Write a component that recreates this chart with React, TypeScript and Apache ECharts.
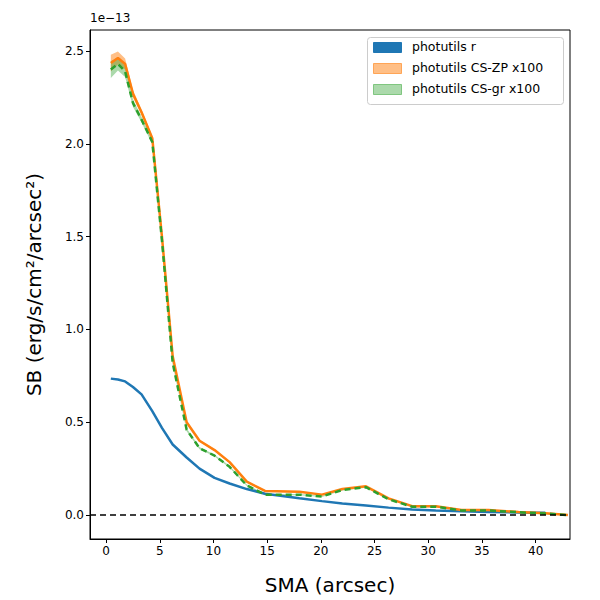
import React, { useEffect, useRef } from 'react'
import * as echarts from 'echarts'

const sma = [0.44, 1.1, 1.77, 2.5, 3.3, 4.3, 5.2, 6.2, 7.5, 8.7, 10.1, 11.5, 13.1, 14.8, 18, 20.1, 22, 24.2, 26.3, 28.5, 30.7, 33.1, 35.6, 38.4, 40.9, 43]
const sbR = [0.735, 0.73, 0.72, 0.69, 0.65, 0.56, 0.47, 0.38, 0.31, 0.25, 0.2, 0.17, 0.14, 0.115, 0.09, 0.075, 0.062, 0.052, 0.04, 0.03, 0.025, 0.02, 0.017, 0.014, 0.012]
const sbZP = [2.435, 2.462, 2.43, 2.27, 2.17, 2.03, 1.5, 0.855, 0.5, 0.4, 0.35, 0.285, 0.18, 0.13, 0.125, 0.11, 0.14, 0.155, 0.09, 0.048, 0.048, 0.027, 0.027, 0.016, 0.01, 0.0]
const sbGR = [2.4, 2.43, 2.39, 2.22, 2.13, 2.01, 1.48, 0.82, 0.46, 0.36, 0.32, 0.26, 0.16, 0.11, 0.11, 0.1, 0.135, 0.15, 0.085, 0.045, 0.045, 0.025, 0.025, 0.015, 0.008, 0.0]
const errZP = [0.045, 0.035, 0.03, 0.02, 0.015, 0.012, 0.01, 0.01, 0.008, 0.006, 0.005, 0.005, 0.004, 0.004, 0.003, 0.003, 0.003, 0.003, 0.003, 0.003, 0.003, 0.003, 0.003, 0.003, 0.003, 0.003]
const errGR = [0.045, 0.035, 0.03, 0.02, 0.015, 0.012, 0.01, 0.01, 0.008, 0.006, 0.005, 0.005, 0.004, 0.004, 0.003, 0.003, 0.003, 0.003, 0.003, 0.003, 0.003, 0.003, 0.003, 0.003, 0.003, 0.003]
const xTicks = [0, 5, 10, 15, 20, 25, 30, 35, 40]
const yTicks = [0, 0.5, 1.0, 1.5, 2.0, 2.5]

const pairs = (ys: number[]) => ys.map((y, i) => [sma[i], y])

// error band as a polygon through the axis scales
const band = (ys: number[], err: number[], color: string) => ({
  type: 'custom',
  silent: true,
  data: [[sma[0], ys[0]]],
  renderItem: (_p: any, api: any) => {
    const upper = ys.map((y, i) => api.coord([sma[i], y + err[i]]))
    const lower = ys.map((y, i) => api.coord([sma[i], y - err[i]])).reverse()
    return { type: 'polygon', shape: { points: [...upper, ...lower] }, style: { fill: color } }
  },
})

const App: React.FC = () => {
  const chartRef = useRef<HTMLDivElement>(null)

  useEffect(() => {
    document.body.style.margin = '0'
    if (!chartRef.current) return
    const chart = echarts.init(chartRef.current, null, { renderer: 'svg' })
    const font = 'DejaVu Sans'
    const legendItems = [
      { label: 'photutils r', fill: '#1f77b4', stroke: '#1f77b4' },
      { label: 'photutils CS-ZP x100', fill: 'rgba(255,127,14,0.5)', stroke: 'rgba(255,127,14,0.6)' },
      { label: 'photutils CS-gr x100', fill: 'rgba(44,160,44,0.4)', stroke: 'rgba(44,160,44,0.5)' },
    ]
    chart.setOption({
      animation: false,
      textStyle: { fontFamily: font },
      grid: { left: 90, right: 30, top: 30, bottom: 60, show: true, borderColor: '#000', borderWidth: 1 },
      xAxis: {
        type: 'value', min: -1.5, max: 43.2,
        name: 'SMA (arcsec)', nameLocation: 'middle', nameGap: 36,
        nameTextStyle: { fontSize: 20, color: '#000', fontFamily: font },
        axisLine: { onZero: false, lineStyle: { color: '#000' } },
        axisTick: { customValues: xTicks, length: 4, lineStyle: { color: '#000' } },
        axisLabel: { customValues: xTicks, color: '#000', fontSize: 12, fontFamily: font, margin: 6 },
        splitLine: { show: false },
      },
      yAxis: {
        type: 'value', min: -0.129, max: 2.613,
        name: 'SB (erg/s/cm²/arcsec²)', nameLocation: 'middle', nameGap: 46,
        nameTextStyle: { fontSize: 20, color: '#000', fontFamily: font },
        axisLine: { show: true, onZero: false, lineStyle: { color: '#000' } },
        axisTick: { show: true, customValues: yTicks, length: 4, lineStyle: { color: '#000' } },
        axisLabel: { customValues: yTicks, color: '#000', fontSize: 12, fontFamily: font, margin: 6, formatter: (v: number) => v.toFixed(1) },
        splitLine: { show: false },
      },
      graphic: [
        { type: 'text', left: 90, top: 12, style: { text: '1e−13', fontSize: 12, fontFamily: font, fill: '#000' } },
        { type: 'rect', left: 367, top: 37, shape: { width: 196, height: 67, r: 3 }, style: { fill: 'rgba(255,255,255,0.8)', stroke: '#ccc' }, z: 100 },
        ...legendItems.flatMap((it, i) => [
          { type: 'rect', left: 373, top: 42 + i * 21, shape: { width: 28, height: 10 }, style: { fill: it.fill, stroke: it.stroke }, z: 101 },
          { type: 'text', left: 412, top: 40 + i * 21, style: { text: it.label, fontSize: 12.5, fontFamily: font, fill: '#000' }, z: 101 },
        ]),
      ],
      series: [
        band(sbZP, errZP, 'rgba(255,127,14,0.5)'),
        band(sbGR, errGR, 'rgba(44,160,44,0.4)'),
        {
          type: 'line', symbol: 'none', data: pairs(sbR),
          lineStyle: { color: '#1f77b4', width: 2.5 },
          markLine: {
            silent: true, symbol: 'none', label: { show: false },
            lineStyle: { color: '#000', type: [6, 4], width: 1.5 },
            data: [{ yAxis: 0 }],
          },
        },
        { type: 'line', symbol: 'none', data: pairs(sbZP), lineStyle: { color: '#ff7f0e', width: 2.5 } },
        { type: 'line', symbol: 'none', data: pairs(sbGR), lineStyle: { color: '#2ca02c', width: 2.5, type: [6, 4] } },
      ],
    })
    return () => chart.dispose()
  }, [])

  return <div ref={chartRef} style={{ width: 600, height: 600 }} />
}

export default App
